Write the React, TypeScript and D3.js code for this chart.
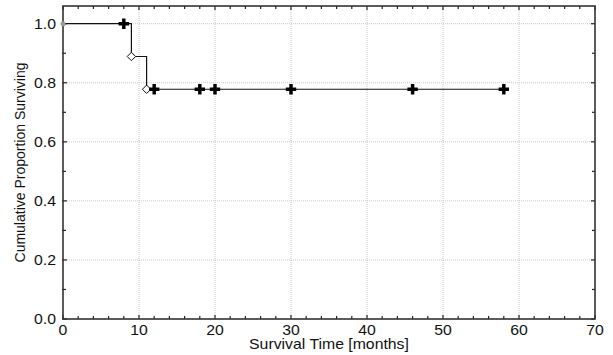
import React, { useEffect, useRef } from 'react';
import * as d3 from 'd3';

// step points of the survival curve (time, proportion)
const stepTimes = [0, 9, 11, 58];
const stepValues = [1.0, 0.889, 0.778, 0.778];
// completed events (diamonds)
const eventTimes = [9, 11];
const eventValues = [0.889, 0.778];
// censored observations (crosses)
const censoredTimes = [8, 12, 18, 20, 30, 46, 58];
const censoredValues = [1.0, 0.778, 0.778, 0.778, 0.778, 0.778, 0.778];

const xTicks = [0, 10, 20, 30, 40, 50, 60, 70];
const yTicks = [0, 0.2, 0.4, 0.6, 0.8, 1.0];

const App: React.FC = () => {
  const ref = useRef<SVGSVGElement>(null);

  useEffect(() => {
    const width = 613;
    const height = 355;
    const marginLeft = 63;
    const marginRight = 18;
    const marginTop = 6;
    const marginBottom = 36;
    const font = '"Liberation Sans", Arial, Helvetica, sans-serif';
    const stretch = 1.13; // the reference text is a bit wider than Liberation Sans

    const svg = d3.select(ref.current).attr('width', width).attr('height', height);
    svg.selectAll('*').remove();

    const x = d3.scaleLinear().domain([0, 70]).range([marginLeft, width - marginRight]);
    const y = d3.scaleLinear().domain([0, 1.06]).range([height - marginBottom, marginTop]);

    const x0 = x(0), x1 = x(70), y0 = y(0), y1 = y(1.06);

    // grid
    const grid = svg.append('g').attr('stroke', '#c8c8c8').attr('stroke-width', 1).attr('stroke-dasharray', '1,1');
    xTicks.slice(1, -1).forEach((t) => {
      grid.append('line').attr('x1', x(t)).attr('x2', x(t)).attr('y1', y0).attr('y2', y1);
    });
    yTicks.slice(1).forEach((t) => {
      grid.append('line').attr('x1', x0).attr('x2', x1).attr('y1', y(t)).attr('y2', y(t));
    });

    // ticks (major + minor), inward on all four sides
    const tk = svg.append('g').attr('stroke', '#222').attr('stroke-width', 1.2);
    d3.range(0, 70.01, 2).forEach((t) => {
      const len = t % 10 === 0 ? 4 : 3;
      tk.append('line').attr('x1', x(t)).attr('x2', x(t)).attr('y1', y0).attr('y2', y0 - len);
      tk.append('line').attr('x1', x(t)).attr('x2', x(t)).attr('y1', y1).attr('y2', y1 + len);
    });
    d3.range(0, 1.001, 0.1).forEach((t) => {
      const len = Math.round(t * 10) % 2 === 0 ? 4 : 3;
      tk.append('line').attr('x1', x0 - 1).attr('x2', x0 + len).attr('y1', y(t)).attr('y2', y(t));
      tk.append('line').attr('x1', x1).attr('x2', x1 - len).attr('y1', y(t)).attr('y2', y(t));
    });

    // frame
    svg
      .append('rect')
      .attr('x', x0)
      .attr('y', y1)
      .attr('width', x1 - x0)
      .attr('height', y0 - y1)
      .attr('fill', 'none')
      .attr('stroke', '#333')
      .attr('stroke-width', 1.6);

    // tick labels
    svg
      .append('g')
      .selectAll('text')
      .data(xTicks)
      .join('text')
      .attr('transform', (d) => `translate(${x(d)},${y0 + 15.5}) scale(${stretch},1)`)
      .attr('text-anchor', 'middle')
      .attr('font-family', font)
      .attr('font-size', 14)
      .attr('fill', '#111')
      .text((d) => d);

    svg
      .append('g')
      .selectAll('text')
      .data(yTicks)
      .join('text')
      .attr('transform', (d) => `translate(${x0 - 7},${y(d) + 5}) scale(${stretch},1)`)
      .attr('text-anchor', 'end')
      .attr('font-family', font)
      .attr('font-size', 14)
      .attr('fill', '#111')
      .text((d) => d.toFixed(1));

    // axis titles
    svg
      .append('text')
      .attr('transform', `translate(${(x0 + x1) / 2},${y0 + 30}) scale(${stretch},1)`)
      .attr('text-anchor', 'middle')
      .attr('font-family', font)
      .attr('font-size', 14)
      .attr('fill', '#111')
      .text('Survival Time [months]');

    svg
      .append('text')
      .attr('transform', `translate(25,${(y0 + y1) / 2}) rotate(-90)`)
      .attr('text-anchor', 'middle')
      .attr('font-family', font)
      .attr('font-size', 14)
      .attr('fill', '#111')
      .text('Cumulative Proportion Surviving');

    // survival step line
    const pts: [number, number][] = stepTimes.map((t, i) => [t, stepValues[i]]);
    const line = d3
      .line<[number, number]>()
      .x((d) => x(d[0]))
      .y((d) => y(d[1]))
      .curve(d3.curveStepAfter);
    svg
      .append('path')
      .attr('d', line(pts))
      .attr('fill', 'none')
      .attr('stroke', '#111')
      .attr('stroke-width', 1.2);

    // start point
    svg.append('circle').attr('cx', x(0)).attr('cy', y(1.0)).attr('r', 2.5).attr('fill', '#999');

    // events: open diamonds
    const diamond = d3.symbol().type(d3.symbolDiamond2).size(45);
    svg
      .append('g')
      .selectAll('path')
      .data(eventTimes)
      .join('path')
      .attr('d', diamond()!)
      .attr('transform', (d, i) => `translate(${x(d)},${y(eventValues[i])})`)
      .attr('fill', '#fff')
      .attr('stroke', '#111')
      .attr('stroke-width', 1);

    // censored: bold crosses
    const cross = d3.symbol().type(d3.symbolCross).size(60);
    svg
      .append('g')
      .selectAll('path')
      .data(censoredTimes)
      .join('path')
      .attr('d', cross()!)
      .attr('transform', (d, i) => `translate(${x(d)},${y(censoredValues[i])})`)
      .attr('fill', '#000');
  }, []);

  return <svg ref={ref} style={{ display: 'block', position: 'absolute', left: 0, top: 0 }}></svg>;
};

export default App;
